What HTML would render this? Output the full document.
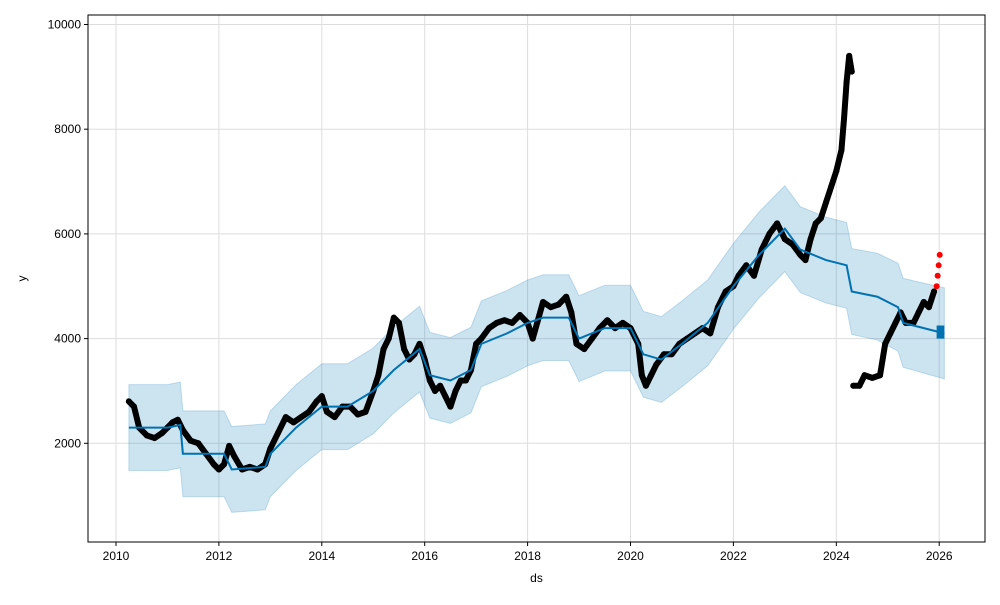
<!DOCTYPE html>
<html><head><meta charset="utf-8"><style>
body{margin:0;background:#fff;font-family:"Liberation Sans",sans-serif}
svg text{font-family:"Liberation Sans",sans-serif;font-size:12px;fill:#000}
</style></head><body>
<svg id="chart" width="1000" height="600" viewBox="0 0 1000 600">
<rect x="0" y="0" width="1000" height="600" fill="#fff"/>
<g id="grid"></g><g id="band"></g><g id="actual"></g><g id="fc"></g><g id="axes"></g>
</svg>
<script>
const actualX=[2010.25,2010.35,2010.45,2010.6,2010.75,2010.9,2011.0,2011.1,2011.2,2011.3,2011.45,2011.6,2011.75,2011.9,2012.0,2012.1,2012.2,2012.3,2012.45,2012.6,2012.75,2012.9,2013.0,2013.15,2013.3,2013.45,2013.6,2013.75,2013.9,2014.0,2014.1,2014.25,2014.4,2014.55,2014.7,2014.85,2015.0,2015.1,2015.2,2015.3,2015.4,2015.5,2015.6,2015.7,2015.8,2015.9,2016.0,2016.1,2016.2,2016.3,2016.4,2016.5,2016.6,2016.7,2016.8,2016.9,2017.0,2017.1,2017.25,2017.4,2017.55,2017.7,2017.85,2018.0,2018.1,2018.2,2018.3,2018.45,2018.6,2018.75,2018.85,2018.95,2019.1,2019.25,2019.4,2019.55,2019.7,2019.85,2020.0,2020.15,2020.22,2020.3,2020.4,2020.5,2020.65,2020.8,2020.95,2021.1,2021.25,2021.4,2021.55,2021.7,2021.85,2022.0,2022.1,2022.25,2022.4,2022.55,2022.7,2022.85,2023.0,2023.15,2023.3,2023.4,2023.5,2023.6,2023.7,2023.8,2023.9,2024.0,2024.1,2024.15,2024.2,2024.25,2024.3,2024.33,2024.45,2024.55,2024.7,2024.85,2024.95,2025.05,2025.15,2025.25,2025.35,2025.5,2025.6,2025.7,2025.8,2025.9];
const actualY=[2800,2700,2300,2150,2100,2200,2300,2400,2450,2250,2050,2000,1800,1600,1500,1600,1950,1750,1500,1550,1500,1600,1900,2200,2500,2400,2500,2600,2800,2900,2600,2500,2700,2700,2550,2600,3000,3300,3800,4000,4400,4300,3800,3600,3700,3900,3600,3200,3000,3100,2900,2700,3000,3200,3200,3400,3900,4000,4200,4300,4350,4300,4450,4300,4000,4350,4700,4600,4650,4800,4500,3900,3800,4000,4200,4350,4200,4300,4200,3900,3300,3100,3300,3500,3700,3700,3900,4000,4100,4200,4100,4600,4900,5000,5200,5400,5200,5700,6000,6200,5900,5800,5600,5500,5900,6200,6300,6600,6900,7200,7600,8200,8900,9400,9100,3100,3100,3300,3250,3300,3900,4100,4300,4500,4300,4300,4500,4700,4600,4900];
const newX=[2025.95,2025.97,2025.99,2026.01];
const newY=[5000,5200,5400,5600];
const fcX=[2010.25,2010.5,2011.0,2011.25,2011.3,2011.9,2012.1,2012.25,2012.9,2013.0,2013.5,2014.0,2014.5,2015.0,2015.4,2015.9,2016.1,2016.5,2016.9,2017.1,2017.6,2018.0,2018.3,2018.8,2019.0,2019.5,2020.0,2020.25,2020.6,2021.0,2021.5,2022.0,2022.5,2023.0,2023.3,2023.8,2024.2,2024.3,2024.8,2025.2,2025.3,2025.7,2026.1];
const fcY=[2300,2300,2300,2350,1800,1800,1800,1500,1550,1800,2300,2700,2700,3000,3400,3800,3300,3200,3400,3900,4100,4300,4400,4400,4000,4200,4200,3700,3600,3900,4300,5000,5600,6100,5700,5500,5400,4900,4800,4600,4300,4200,4100];
const bandHalf=[820,820,820,820,820,820,820,820,820,820,820,820,820,820,820,820,820,820,820,820,820,820,820,820,820,820,820,820,820,820,820,820,820,820,820,820,820,820,830,840,850,860,870];
const xTicks=[2010,2012,2014,2016,2018,2020,2022,2024,2026];
const yTicks=[2000,4000,6000,8000,10000];
const L=88,R=985,T=15,B=542;
const X=v=>116+(v-2010)*51.45;
const Y=v=>548-v*0.05235;
const NS='http://www.w3.org/2000/svg';
function mk(tag,attrs,parent){const e=document.createElementNS(NS,tag);for(const k in attrs)e.setAttribute(k,attrs[k]);parent.appendChild(e);return e;}
const grid=document.getElementById('grid'),band=document.getElementById('band'),act=document.getElementById('actual'),fc=document.getElementById('fc'),axes=document.getElementById('axes');
xTicks.forEach(t=>{const l=mk('line',{x1:X(t),x2:X(t),y1:T,y2:B,stroke:'#ddd','stroke-width':1},grid);


const tk=mk('line',{x1:X(t),x2:X(t),y1:B,y2:B+4,stroke:'#000'},axes);


const tx=mk('text',{x:X(t),y:B+18,'text-anchor':'middle'},axes);tx.textContent=t;

});
yTicks.forEach(t=>{const l=mk('line',{x1:L,x2:R,y1:Y(t),y2:Y(t),stroke:'#ddd','stroke-width':1},grid);


const tk=mk('line',{x1:L-4,x2:L,y1:Y(t),y2:Y(t),stroke:'#000'},axes);


const tx=mk('text',{x:L-7,y:Y(t)+4,'text-anchor':'end'},axes);tx.textContent=t;

});
let up=fcX.map((x,i)=>X(x)+','+Y(fcY[i]+bandHalf[i])),lo=fcX.map((x,i)=>X(x)+','+Y(fcY[i]-bandHalf[i])).reverse();
const bp=mk('polygon',{points:up.concat(lo).join(' '),fill:'#0072B2','fill-opacity':0.2,stroke:'#0072B2','stroke-opacity':0.2},band);


// actual points, split at large jump
let seg=[],segs=[];
actualX.forEach((x,i)=>{if(i>0&&Math.abs(actualY[i]-actualY[i-1])>3000){segs.push(seg);seg=[];}seg.push(X(x)+','+Y(actualY[i]));});
segs.push(seg);
segs.forEach(s=>{const p=mk('polyline',{points:s.join(' '),fill:'none',stroke:'#000','stroke-width':6,'stroke-linejoin':'round','stroke-linecap':'round'},act);

});
actualX.forEach((x,i)=>{const c=mk('circle',{cx:X(x),cy:Y(actualY[i]),r:3,fill:'#000'},act);

});
newX.forEach((x,i)=>{const c=mk('circle',{cx:X(x),cy:Y(newY[i]),r:3,fill:'#f00'},act);

});
const fl=mk('polyline',{points:fcX.map((x,i)=>X(x)+','+Y(fcY[i])).join(' '),fill:'none',stroke:'#0072B2','stroke-width':2},fc);


const fr=mk('rect',{x:X(2025.95),y:Y(4250),width:X(2026.1)-X(2025.95),height:Y(4000)-Y(4250),fill:'#0072B2'},fc);


const fb=mk('rect',{x:L,y:T,width:R-L,height:B-T,fill:'none',stroke:'#000','stroke-width':1},axes);


const xl=mk('text',{x:(L+R)/2,y:582,'text-anchor':'middle'},axes);xl.textContent='ds';


const yl=mk('text',{x:26,y:(T+B)/2,'text-anchor':'middle',transform:'rotate(-90 26 '+((T+B)/2)+')'},axes);yl.textContent='y';


</script>
</body></html>
